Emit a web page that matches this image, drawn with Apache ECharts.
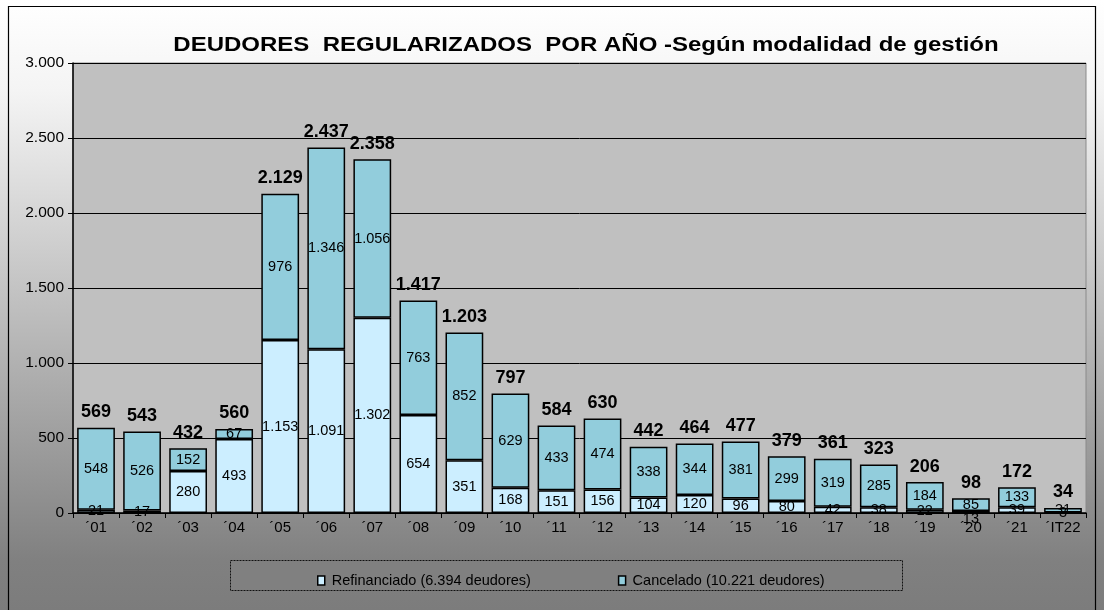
<!DOCTYPE html>
<html><head><meta charset="utf-8">
<script src="https://cdn.jsdelivr.net/npm/echarts@6/dist/echarts.min.js"></script>
<style>html,body{margin:0;padding:0;}#c{width:1104px;height:610px;}</style>
</head><body><div id="c"></div>
<script>
const categories = ['´01','´02','´03','´04','´05','´06','´07','´08','´09','´10','´11','´12','´13','´14','´15','´16','´17','´18','´19','´20','´21','´IT22'];
const refinanciado = [21,17,280,493,1153,1091,1302,654,351,168,151,156,104,120,96,80,42,38,22,13,39,3];
const cancelado = [548,526,152,67,976,1346,1056,763,852,629,433,474,338,344,381,299,319,285,184,85,133,31];
const totals = [569,543,432,560,2129,2437,2358,1417,1203,797,584,630,442,464,477,379,361,323,206,98,172,34];
const titleText = 'DEUDORES  REGULARIZADOS  POR AÑO -Según modalidad de gestión';
const legendNames = ['Refinanciado (6.394 deudores)', 'Cancelado (10.221 deudores)'];

function fmt(v){ return String(v).replace(/\B(?=(\d{3})+(?!\d))/g,'.'); }
const FONT = 'Liberation Sans, Arial, sans-serif';

// label placed below the axis for the tiny '20 segment, as in the original
const refData = refinanciado.map((v,i) => i === 19 ? {value:v, label:{position:'bottom', distance:-2}} : v);

const chart = echarts.init(document.getElementById('c'));
chart.setOption({
  backgroundColor: {type:'linear', x:0, y:0, x2:0, y2:1, colorStops:[{offset:0,color:'#ffffff'},{offset:0.15,color:'#f4f4f4'},{offset:0.92,color:'#808080'},{offset:1,color:'#7c7c7c'}]},
  animation:false,
  textStyle:{fontFamily:FONT},
  graphic:[
    {type:'rect', shape:{x:8.5,y:6.5,width:1087,height:620}, style:{fill:'none', stroke:'#000', lineWidth:1.2}, z:100},
    {type:'rect', shape:{x:230.5,y:560.5,width:672,height:30}, style:{fill:'#808080', stroke:'#111', lineWidth:1, lineDash:[2,1]}, z:1},
    {type:'text', x:586, y:45, scaleX:1.2, z:50,
      style:{text:titleText, font:'bold 20px ' + FONT, fill:'#000', textAlign:'center', textVerticalAlign:'middle'}}
  ],
  legend:{left:312, top:568, itemGap:87, itemWidth:7, itemHeight:9, icon:'rect', z:5,
    textStyle:{fontSize:14.5, color:'#000', padding:[0,0,0,2]},
    data:[{name:legendNames[0], itemStyle:{color:'#cceeff', borderColor:'#000', borderWidth:1.5}},
          {name:legendNames[1], itemStyle:{color:'#92cddc', borderColor:'#000', borderWidth:1.5}}]},
  grid:{left:73, right:18, top:63, bottom:97, show:true, backgroundColor:'#c0c0c0', borderColor:'#8a8a8a', borderWidth:1},
  xAxis:{type:'category', data:categories,
    axisLine:{lineStyle:{color:'#000', width:1.5}},
    axisTick:{show:true, lineStyle:{color:'#000'}, length:5, alignWithLabel:false},
    axisLabel:{color:'#000', fontSize:15, margin:7}},
  yAxis:{type:'value', min:0, max:3000, interval:500,
    axisLine:{show:true, lineStyle:{color:'#000', width:1.5}},
    axisTick:{show:true, inside:false, length:5, lineStyle:{color:'#000'}},
    axisLabel:{color:'#000', fontSize:15.5, formatter:v=>fmt(v), margin:9},
    splitLine:{lineStyle:{color:'#000', width:1}}},
  series:[
    {name:legendNames[0], type:'bar', stack:'a', data:refData, barCategoryGap:'18%',
      itemStyle:{color:'#cceeff', borderColor:'#000', borderWidth:1.5},
      label:{show:true, position:'inside', color:'#000', fontSize:14.5, formatter:p=>fmt(p.value)}},
    {name:legendNames[1], type:'bar', stack:'a', data:cancelado,
      itemStyle:{color:'#92cddc', borderColor:'#000', borderWidth:1.5},
      label:{show:true, position:'inside', color:'#000', fontSize:14.5, formatter:p=>fmt(p.value)}},
    {name:'total', type:'line', data:totals, symbol:'circle', symbolSize:1, showSymbol:true,
      itemStyle:{color:'rgba(0,0,0,0)'}, lineStyle:{opacity:0}, silent:true, z:10,
      label:{show:true, position:'top', distance:6, color:'#000', fontSize:18, fontWeight:'bold', formatter:p=>fmt(p.value)}}
  ]
});
</script></body></html>
